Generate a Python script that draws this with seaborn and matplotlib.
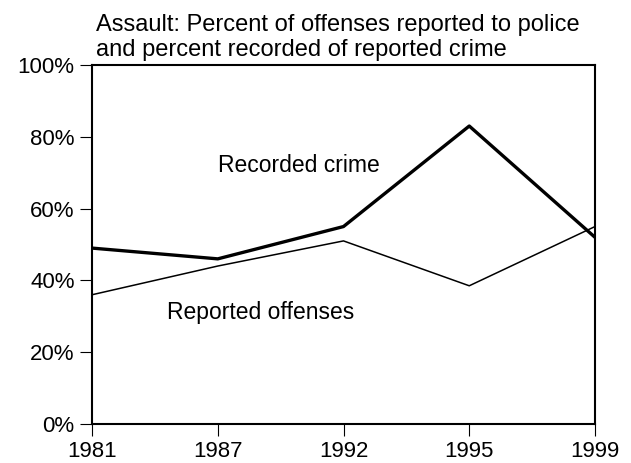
import matplotlib
matplotlib.use("Agg")
import matplotlib.pyplot as plt
import seaborn as sns
import pandas as pd

years = ["1981", "1987", "1992", "1995", "1999"]
recorded = [49, 46, 55, 83, 52]
reported = [36, 44, 51, 38.5, 55]
y_ticks = [0, 20, 40, 60, 80, 100]
y_tick_labels = ["0%", "20%", "40%", "60%", "80%", "100%"]
title_text = "Assault: Percent of offenses reported to police\nand percent recorded of reported crime"

sns.set_theme(style="white")
plt.rcParams['font.family'] = ['Liberation Sans', 'DejaVu Sans']

df = pd.DataFrame({"year": years * 2,
                   "value": recorded + reported,
                   "series": ["Recorded crime"] * 5 + ["Reported offenses"] * 5})

fig = plt.figure(figsize=(6.31, 4.63), dpi=100)
ax = fig.add_axes([92/631, 1 - 424/463, (595 - 92)/631, (424 - 65)/463])

sns.lineplot(data=df[df.series == "Recorded crime"], x="year", y="value", ax=ax,
             color="black", linewidth=2.4, sort=False, legend=False)
sns.lineplot(data=df[df.series == "Reported offenses"], x="year", y="value", ax=ax,
             color="black", linewidth=1.1, sort=False, legend=False)

ax.set_xlim(0, len(years) - 1)
ax.set_ylim(0, 100)
ax.set_yticks(y_ticks)
ax.set_yticklabels(y_tick_labels)
ax.set_xlabel("")
ax.set_ylabel("")
for s in ax.spines.values():
    s.set_visible(True)
    s.set_color("black")
    s.set_linewidth(1.5)
ax.tick_params(axis="both", direction="out", length=8.5, width=0.8, color="black",
               labelsize=16, labelcolor="black", pad=4)
ax.tick_params(axis="x", bottom=True)
ax.tick_params(axis="y", left=True)

ax.text(0.008, 1.01, title_text, transform=ax.transAxes, ha="left", va="bottom",
        fontsize=17, color="black", linespacing=1.2)
ax.text(1.0, 72, "Recorded crime", ha="left", va="center", fontsize=16.5, color="black")
ax.text(0.6, 31, "Reported offenses", ha="left", va="center", fontsize=16.5, color="black")

fig.savefig("out.png", dpi=100, facecolor="white")
